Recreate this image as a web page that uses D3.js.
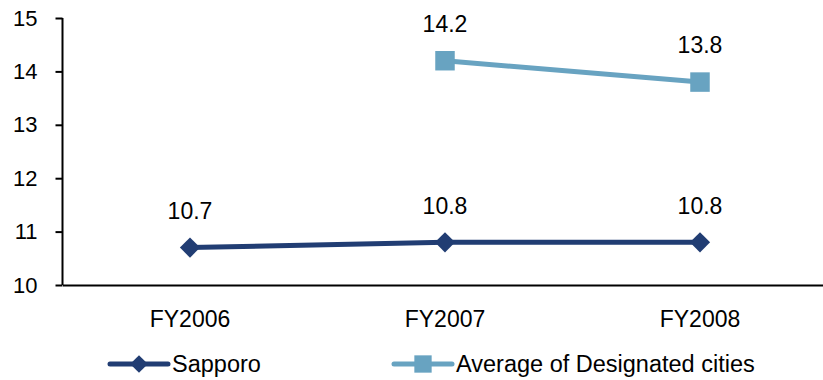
<!DOCTYPE html>
<html>
<head>
<meta charset="utf-8">
<script src="https://cdn.jsdelivr.net/npm/d3@7"></script>
<style>
  html, body { margin: 0; padding: 0; background: #fff; }
  text { font-family: Arial, "Liberation Sans", sans-serif; fill: #000; }
</style>
</head>
<body>
<svg id="chart" width="823" height="380"></svg>
<script>
const categories = ["FY2006", "FY2007", "FY2008"];
const sapporo = [10.7, 10.8, 10.8];
const designatedAvg = [null, 14.2, 13.8];
const yTicks = [10, 11, 12, 13, 14, 15];
const seriesNames = ["Sapporo", "Average of Designated cities"];

const navy = "#213D73";
const steel = "#68A3C1";

const svg = d3.select("#chart");
const margin = { left: 62.5, top: 18 };

const x = d3.scaleBand().domain(categories).range([margin.left, 827.5]);
const y = d3.scaleLinear().domain([10, 15]).range([285, margin.top]);

// Axes
const yAxis = svg.append("g").attr("transform", `translate(${margin.left},0)`)
  .call(d3.axisLeft(y).tickValues(yTicks).tickSize(7).tickPadding(18).tickFormat(d3.format("d")));
yAxis.select(".domain").attr("stroke", "#000").attr("stroke-width", 2).attr("d", `M0,${y(15)}V${y(10)}`);
yAxis.selectAll(".tick line").attr("stroke", "#000").attr("stroke-width", 2);
yAxis.selectAll(".tick text").attr("font-size", 22).attr("fill", "#000");

const xAxis = svg.append("g").attr("transform", `translate(0,${y(10)})`)
  .call(d3.axisBottom(x).tickSize(0).tickPadding(26));
xAxis.select(".domain").attr("stroke", "#000").attr("stroke-width", 2);
xAxis.selectAll(".tick text").attr("font-size", 23).attr("fill", "#000");

const cx = d => x(d) + x.bandwidth() / 2;

function drawSeries(values, color, symbolType, symbolSize, labelOffset) {
  const pts = categories.map((c, i) => ({ c, v: values[i] })).filter(p => p.v != null);
  svg.append("path")
    .datum(pts)
    .attr("fill", "none")
    .attr("stroke", color)
    .attr("stroke-width", 5)
    .attr("d", d3.line().x(p => cx(p.c)).y(p => y(p.v)));
  svg.selectAll(null).data(pts).enter().append("path")
    .attr("transform", p => `translate(${cx(p.c)},${y(p.v)})`)
    .attr("d", d3.symbol().type(symbolType).size(symbolSize))
    .attr("fill", color);
  svg.selectAll(null).data(pts).enter().append("text")
    .attr("x", p => cx(p.c))
    .attr("y", p => y(p.v) - labelOffset)
    .attr("text-anchor", "middle")
    .attr("font-size", 23)
    .text(p => d3.format(".1f")(p.v));
}

drawSeries(sapporo, navy, d3.symbolDiamond2, 260, 28.5);
drawSeries(designatedAvg, steel, d3.symbolSquare, 380, 29);

// Legend
const legend = [
  { name: seriesNames[0], color: navy, type: d3.symbolDiamond2, size: 200, x0: 110 },
  { name: seriesNames[1], color: steel, type: d3.symbolSquare, size: 300, x0: 394 }
];
const ly = 364;
legend.forEach(l => {
  const g = svg.append("g");
  g.append("line").attr("x1", l.x0).attr("x2", l.x0 + 58).attr("y1", ly).attr("y2", ly)
    .attr("stroke", l.color).attr("stroke-width", 5).attr("stroke-linecap", "round");
  g.append("path").attr("transform", `translate(${l.x0 + 29},${ly})`)
    .attr("d", d3.symbol().type(l.type).size(l.size)).attr("fill", l.color);
  g.append("text").attr("x", l.x0 + 62).attr("y", ly + 8).attr("font-size", 23.5).text(l.name);
});
</script>
</body>
</html>
